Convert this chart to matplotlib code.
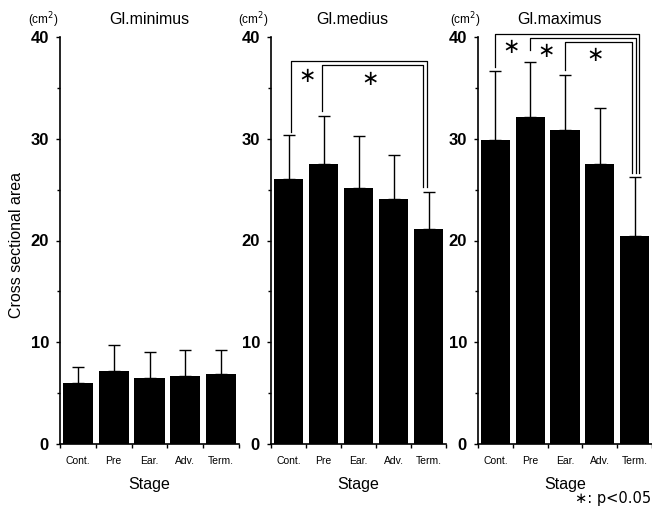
import numpy as np
import matplotlib
matplotlib.use("Agg")
import matplotlib.pyplot as plt
from matplotlib.ticker import MultipleLocator, FixedLocator

plt.rcParams["font.family"] = ["Liberation Sans", "DejaVu Sans"]

stages = ["Cont.", "Pre", "Ear.", "Adv.", "Term."]
muscles = ["Gl.minimus", "Gl.medius", "Gl.maximus"]

minimus_mean = [6.0, 7.2, 6.5, 6.7, 6.9]
minimus_sd = [1.6, 2.5, 2.5, 2.5, 2.3]
medius_mean = [26.0, 27.5, 25.2, 24.1, 21.1]
medius_sd = [4.4, 4.7, 5.1, 4.3, 3.7]
maximus_mean = [29.9, 32.1, 30.9, 27.5, 20.4]
maximus_sd = [6.8, 5.4, 5.4, 5.5, 5.8]

# significance brackets: (x start, y start, bracket height, x end, y end)
medius_brackets = [(0.06, 30.7, 37.6, 3.95, 25.3),
                   (0.95, 32.7, 37.2, 3.84, 25.3)]
medius_stars = [(0.54, 36.2), (2.34, 35.9)]
maximus_brackets = [(0.0, 37.1, 40.3, 4.13, 26.6),
                    (0.99, 38.7, 39.9, 4.03, 26.6),
                    (2.0, 36.8, 39.5, 3.92, 26.6)]
maximus_stars = [(0.46, 39.0), (1.47, 38.6), (2.87, 38.2)]

means = [minimus_mean, medius_mean, maximus_mean]
sds = [minimus_sd, medius_sd, maximus_sd]
brackets = [[], medius_brackets, maximus_brackets]
stars = [[], medius_stars, maximus_stars]

W, H = 652, 509
fig = plt.figure(figsize=(W / 100, H / 100), dpi=100)

# panel pixel extents (left, right)
panels = [(60, 239), (271, 446), (478, 652)]
title_x = [149, 352, 560]
cm_x = [43, 253, 465]
top_px, bot_px = 37, 444

x = np.arange(len(stages))
for i, (l, r) in enumerate(panels):
    ax = fig.add_axes([l / W, 1 - bot_px / H, (r - l) / W, (bot_px - top_px) / H])
    ax.bar(x, means[i], width=0.84, color="black")
    ax.errorbar(x, means[i], yerr=[np.zeros(5), sds[i]], fmt="none",
                ecolor="black", elinewidth=1, capsize=4, capthick=1)
    ax.set_xlim(-0.5, 4.5)
    ax.set_ylim(0, 40)
    for s in ["top", "right"]:
        ax.spines[s].set_visible(False)
    ax.spines["left"].set_linewidth(1.2)
    ax.spines["bottom"].set_linewidth(1.2)
    ax.yaxis.set_major_locator(MultipleLocator(10))
    ax.yaxis.set_minor_locator(MultipleLocator(5))
    ax.tick_params(axis="y", which="major", length=3, width=1, pad=5, labelsize=12)
    ax.tick_params(axis="y", which="minor", length=2.5, width=1)
    for lab in ax.get_yticklabels():
        lab.set_fontweight("bold")
    ax.set_xticks(x)
    ax.set_xticklabels(stages, fontsize=7.5)
    ax.xaxis.set_minor_locator(FixedLocator(np.arange(-0.5, 5, 1.0)))
    ax.tick_params(axis="x", which="major", length=0, pad=9)
    ax.tick_params(axis="x", which="minor", length=3, width=1)

    for (xs, ys, yh, xe, ye) in brackets[i]:
        ax.plot([xs, xs, xe, xe], [ys, yh, yh, ye], color="black", lw=0.9,
                clip_on=False)
    for (sx, sy) in stars[i]:
        ax.text(sx, sy, "\u2217", fontsize=15, ha="center", va="center",
                family="DejaVu Sans", clip_on=False)

    fig.text(title_x[i] / W, 1 - 19 / H, muscles[i], fontsize=11.5,
             ha="center", va="center")
    fig.text(cm_x[i] / W, 1 - 20 / H, "(cm$^2$)", fontsize=8.5,
             ha="center", va="center")
    fig.text((l + r) / 2 / W, 1 - 484 / H, "Stage", fontsize=11.5,
             ha="center", va="center")

fig.text(16.5 / W, 1 - 245 / H, "Cross sectional area", fontsize=11.5,
         rotation=90, ha="center", va="center")
fig.text(651 / W, 1 - 499 / H, "\u2217: p<0.05", fontsize=10.5,
         ha="right", va="center", family=["DejaVu Sans"])

fig.savefig("out.png", dpi=100)
